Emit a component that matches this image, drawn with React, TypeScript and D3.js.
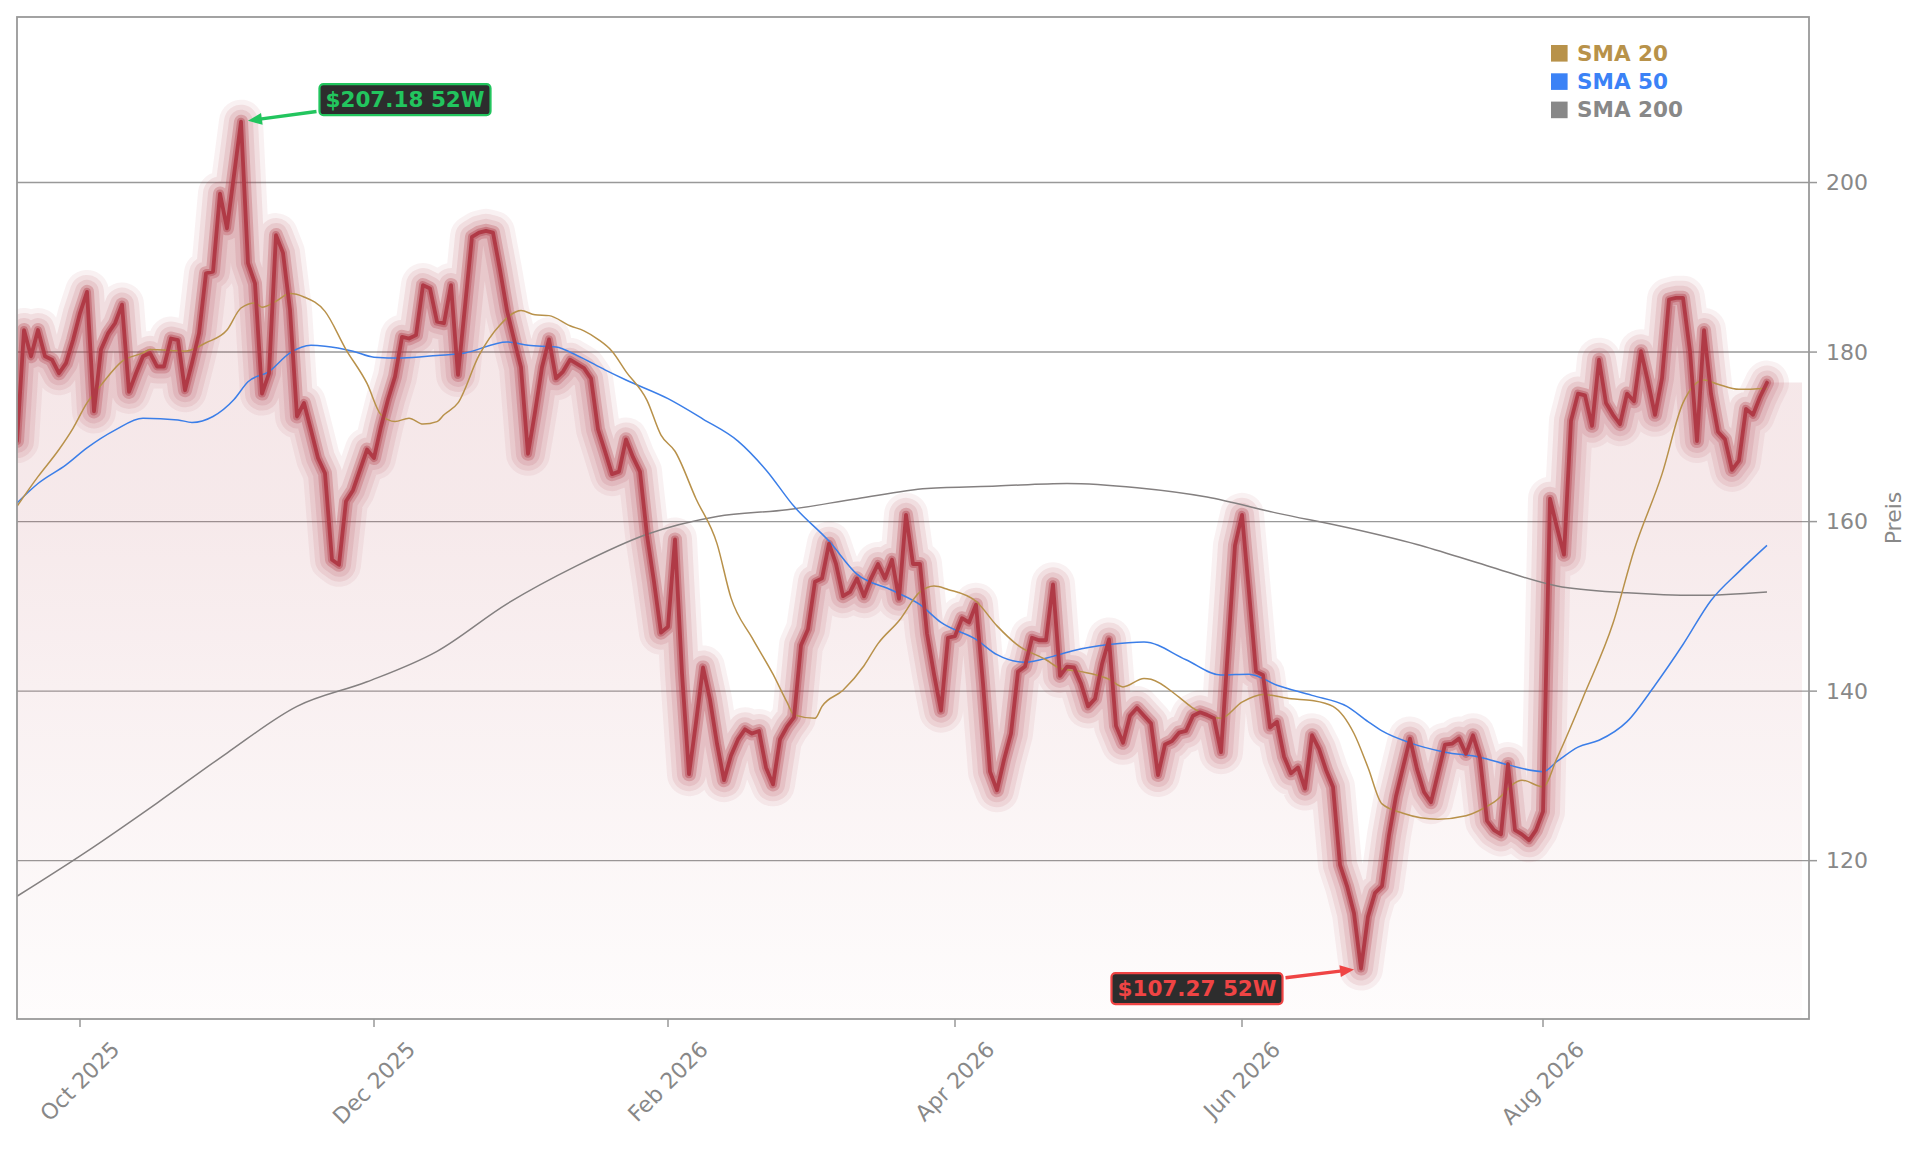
import React, { useRef, useEffect } from "react";
import * as d3 from "d3";

// first session and exchange holidays, the axis runs on trading-day index
const firstSession = new Date(2025, 8, 18);
const holidays = [
  "2025-11-27", "2025-12-25", "2026-01-01", "2026-01-19", "2026-02-16",
  "2026-04-03", "2026-05-25", "2026-06-19", "2026-07-03", "2026-09-07",
];

const prices = [
  169.5, 182.6, 179.5, 182.6, 179.5, 179.1, 177.5, 178.7, 181.4, 184.6,
  187.1, 173.0, 180.3, 182.2, 183.4, 185.6, 175.3, 177.5, 179.5, 179.9,
  178.3, 178.3, 181.6, 181.4, 175.5, 178.7, 182.2, 189.3, 189.5, 198.7,
  194.6, 200.9, 207.18, 190.5, 188.1, 175.1, 177.5, 193.8, 191.7, 185.0,
  172.4, 174.0, 170.8, 167.5, 165.7, 155.5, 154.9, 162.4, 163.7, 166.1,
  168.5, 167.5, 171.2, 174.4, 177.1, 181.8, 181.6, 182.0, 187.9, 187.5,
  183.6, 183.4, 187.9, 177.3, 185.4, 193.6,
  194.1, 194.3, 194.1, 189.7, 184.9, 181.5, 178.2, 168.0, 172.9, 178.2, 181.5,
  176.9, 177.7, 179.1, 178.6, 178.1, 176.9, 170.9, 168.3, 165.6, 165.9,
  169.7, 167.6, 165.9, 158.4, 152.9, 146.9, 147.6, 157.9, 142.1, 130.2,
  136.3, 142.8, 139.0, 133.8, 129.5, 132.4, 134.3, 135.5, 135.0, 135.3,
  131.0, 129.0, 134.3, 135.8, 136.9, 145.4, 147.3, 152.9, 153.3, 157.4,
  155.0, 151.2, 151.7, 153.3, 151.2, 153.3, 155.0, 153.3, 155.5, 150.9,
  160.8, 155.0, 155.0,
  146.8, 142.0, 137.7, 146.3, 146.5, 148.6, 148.1, 150.2, 140.9, 130.5, 128.3,
  131.9, 135.0, 142.3, 142.9, 146.3, 146.0, 146.0, 152.6, 141.8, 142.9,
  142.8, 140.9, 138.2, 139.1, 143.2, 146.1, 135.9, 133.9, 137.1, 138.0,
  137.1, 136.2, 130.1, 133.7, 134.1, 135.1, 135.3, 137.1, 137.5, 137.2,
  136.8, 132.8, 145.0, 157.2, 160.8, 151.7, 142.3, 141.9, 135.7, 136.4,
  132.3, 130.3, 131.0, 128.5, 134.8, 133.2, 130.7, 128.7, 119.5, 117.0,
  113.8, 107.27,
  113.4, 116.2, 117.0, 123.0, 127.6, 131.0, 134.4, 130.8, 128.1, 126.9,
  130.3, 133.7, 133.8, 134.4, 132.6, 134.8, 132.1, 124.7, 123.6, 123.1,
  131.4, 123.6, 123.1, 122.4, 123.6, 125.8, 162.7, 159.3, 156.1, 171.9,
  175.1, 174.9, 171.3, 179.1, 174.0, 172.6, 171.5, 175.1, 174.2, 180.1,
  176.5, 172.6, 176.9, 186.2, 186.4, 186.4, 180.1, 169.5, 182.6, 175.1,
  170.6, 169.7, 166.1, 167.2, 173.3, 172.6, 174.7, 176.4,
];

// [trading day index, value]
const sma20: [number, number][] = [
  [0, 161.8], [3, 165.3], [6, 168.5], [8, 171.0], [10, 174.0], [12, 176.1], [15, 178.9],
  [18, 179.9], [19, 180.3], [22, 180.2], [24, 180.1], [27, 181.1], [30, 182.6], [32, 185.2],
  [34, 185.8], [35, 185.3], [37, 186.0], [39, 186.9], [41, 186.5], [44, 184.8], [47, 180.3],
  [50, 176.3], [52, 172.6], [54, 171.8], [56, 172.2], [58, 171.5], [60, 171.8], [61, 172.6],
  [63, 174.0], [66, 179.6], [69, 183.2], [72, 184.9], [74, 184.4], [76, 184.3], [79, 183.1],
  [81, 182.5], [83, 181.5], [85, 180.1], [87, 177.7], [90, 174.3], [92, 170.2], [94, 168.3],
  [97, 162.7], [100, 157.4], [102, 151.0], [105, 146.3], [108, 142.0], [110, 138.7],
  [111, 137.2], [114, 136.8], [115, 138.2], [118, 140.1], [121, 143.0], [123, 145.6],
  [126, 148.3], [129, 151.7], [131, 152.4], [133, 152.0], [137, 150.6], [140, 147.7],
  [143, 145.4], [147, 143.7], [149, 142.7], [152, 142.3], [156, 141.4], [158, 140.5],
  [161, 141.5], [162, 141.4], [166, 139.3], [168, 138.0], [172, 136.8], [175, 138.7],
  [178, 139.6], [182, 139.1], [185, 138.9], [188, 138.2], [191, 135.0], [193, 131.0],
  [195, 126.7], [198, 125.6], [203, 124.9], [207, 125.3], [211, 126.9], [215, 129.5],
  [218, 128.7], [220, 132.1], [224, 139.8], [228, 148.0], [231, 156.6], [235, 165.6],
  [238, 174.0], [241, 176.7], [243, 176.2], [246, 175.6], [250, 175.7],
];

const sma50: [number, number][] = [
  [0, 162.2], [3, 164.5], [7, 166.7], [10, 168.7], [14, 170.8], [18, 172.2], [23, 172.0],
  [25, 171.7], [28, 172.4], [31, 174.4], [33, 176.5], [36, 177.7], [39, 179.9], [42, 180.8],
  [44, 180.7], [48, 180.1], [51, 179.4], [55, 179.3], [60, 179.6], [64, 179.9], [70, 181.2],
  [73, 180.8], [77, 180.6], [80, 179.6], [84, 177.9], [87, 176.7], [93, 174.5], [98, 172.1],
  [103, 169.5], [107, 166.1], [111, 161.8], [116, 157.7], [120, 153.8], [125, 151.9],
  [129, 150.2], [132, 148.1], [137, 146.1], [140, 144.3], [144, 143.4], [148, 144.1],
  [151, 144.8], [156, 145.5], [161, 145.8], [167, 143.7], [172, 141.9], [176, 142.0],
  [180, 140.7], [185, 139.5], [190, 138.2], [193, 136.4], [195, 135.3], [199, 133.9],
  [204, 132.8], [209, 132.2], [213, 131.3], [218, 130.5], [220, 131.7], [223, 133.4],
  [226, 134.2], [230, 136.4], [234, 140.7], [238, 145.5], [242, 150.7], [246, 154.1],
  [250, 157.2],
];

const sma200: [number, number][] = [
  [0, 115.8], [10, 121.1], [20, 126.8], [30, 132.7], [40, 138.2], [50, 141.1], [60, 144.7],
  [70, 150.3], [80, 154.8], [90, 158.5], [100, 160.6], [110, 161.4], [120, 162.7],
  [130, 163.9], [140, 164.2], [150, 164.5], [160, 164.0], [170, 162.9], [180, 161.0],
  [190, 159.3], [200, 157.3], [210, 154.8], [220, 152.4], [230, 151.6], [240, 151.3],
  [250, 151.7],
];

const yTicks = [120, 140, 160, 180, 200];
const xTickMonths = [
  new Date(2025, 9, 1),
  new Date(2025, 11, 1),
  new Date(2026, 1, 1),
  new Date(2026, 3, 1),
  new Date(2026, 5, 1),
  new Date(2026, 7, 1),
];

const legendItems = [
  { label: "SMA 20", color: "#b8924a" },
  { label: "SMA 50", color: "#3b82f6" },
  { label: "SMA 200", color: "#888888" },
];

const W = 1921;
const H = 1151;
const frame = { left: 17, right: 1809, top: 17, bottom: 1019 };
const FONT = "DejaVu Sans";
const PRICE_COLOR = "#b03a46";

const isoDay = d3.timeFormat("%Y-%m-%d");

// trading sessions, one per price
const sessions: Date[] = [];
for (let d = new Date(firstSession); sessions.length < prices.length; d = d3.timeDay.offset(d, 1)) {
  const wd = d.getDay();
  if (wd !== 0 && wd !== 6 && !holidays.includes(isoDay(d))) sessions.push(d);
}

const App: React.FC = () => {
  const ref = useRef<SVGSVGElement>(null);

  useEffect(() => {
    if (!ref.current) return;
    const svg = d3.select(ref.current);
    svg.selectAll("*").remove();

    // index axis: price i sits at session i, the frame runs a few sessions past the end
    const x = d3.scaleLinear().domain([0, 256]).range([frame.left, frame.right]);
    const y = d3
      .scaleLinear()
      .domain([101.32, 219.53])
      .range([frame.bottom, frame.top]);

    const defs = svg.append("defs");
    defs
      .append("clipPath")
      .attr("id", "plot-clip")
      .append("rect")
      .attr("x", frame.left)
      .attr("y", frame.top)
      .attr("width", frame.right - frame.left)
      .attr("height", frame.bottom - frame.top);

    const grad = defs
      .append("linearGradient")
      .attr("id", "fill-grad")
      .attr("gradientUnits", "userSpaceOnUse")
      .attr("x1", 0)
      .attr("x2", 0)
      .attr("y1", frame.top)
      .attr("y2", frame.bottom);
    [
      [0, 0.15],
      [0.5, 0.11],
      [0.8, 0.05],
      [1, 0.015],
    ].forEach(([o, a]) =>
      grad
        .append("stop")
        .attr("offset", o)
        .attr("stop-color", PRICE_COLOR)
        .attr("stop-opacity", a)
    );

    svg
      .append("rect")
      .attr("width", W)
      .attr("height", H)
      .attr("fill", "#ffffff");

    // horizontal grid
    svg
      .append("g")
      .selectAll("line")
      .data(yTicks)
      .enter()
      .append("line")
      .attr("x1", frame.left)
      .attr("x2", frame.right)
      .attr("y1", (d) => y(d))
      .attr("y2", (d) => y(d))
      .attr("stroke", "#999999")
      .attr("stroke-width", 1.4);

    const plot = svg.append("g").attr("clip-path", "url(#plot-clip)");

    const pts = prices.map((v, i) => ({ i, v }));

    // area under price, carried a few sessions past the last close
    const areaPts = [...pts, { i: prices.length - 1 + 5, v: prices[prices.length - 1] }];
    plot
      .append("path")
      .datum(areaPts)
      .attr(
        "d",
        d3
          .area<{ i: number; v: number }>()
          .x((d) => x(d.i))
          .y0(frame.bottom)
          .y1((d) => y(d.v))
      )
      .attr("fill", "url(#fill-grad)");

    const priceLine = d3
      .line<{ i: number; v: number }>()
      .x((d) => x(d.i))
      .y((d) => y(d.v));

    // glow, wide and faint outside, denser near the line
    const glow = [
      [44, 0.07],
      [34, 0.1],
      [24, 0.12],
      [14, 0.27],
      [8, 0.4],
    ];
    glow.forEach(([w, a]) => {
      plot
        .append("path")
        .datum(pts)
        .attr("d", priceLine)
        .attr("fill", "none")
        .attr("stroke", PRICE_COLOR)
        .attr("stroke-opacity", a)
        .attr("stroke-width", w)
        .attr("stroke-linejoin", "round")
        .attr("stroke-linecap", "round");
    });

    // moving averages
    const smaLine = d3
      .line<[number, number]>()
      .x((d) => x(d[0]))
      .y((d) => y(d[1]))
      .curve(d3.curveMonotoneX);
    [
      { data: sma200, color: "#848080" },
      { data: sma50, color: "#3b7ee8" },
      { data: sma20, color: "#b8914a" },
    ].forEach((s) => {
      plot
        .append("path")
        .datum(s.data)
        .attr("d", smaLine)
        .attr("fill", "none")
        .attr("stroke", s.color)
        .attr("stroke-width", 1.5);
    });

    plot
      .append("path")
      .datum(pts)
      .attr("d", priceLine)
      .attr("fill", "none")
      .attr("stroke", PRICE_COLOR)
      .attr("stroke-width", 3.8)
      .attr("stroke-linejoin", "round")
      .attr("stroke-linecap", "round");

    // frame
    svg
      .append("rect")
      .attr("x", frame.left)
      .attr("y", frame.top)
      .attr("width", frame.right - frame.left)
      .attr("height", frame.bottom - frame.top)
      .attr("fill", "none")
      .attr("stroke", "#999999")
      .attr("stroke-width", 1.8);

    // right axis
    const yAxis = svg.append("g");
    yTicks.forEach((t) => {
      yAxis
        .append("line")
        .attr("x1", frame.right)
        .attr("x2", frame.right + 8)
        .attr("y1", y(t))
        .attr("y2", y(t))
        .attr("stroke", "#999999")
        .attr("stroke-width", 1.5);
      yAxis
        .append("text")
        .attr("x", frame.right + 17)
        .attr("y", y(t))
        .attr("dominant-baseline", "central")
        .attr("font-family", FONT)
        .attr("font-size", 22)
        .attr("fill", "#888888")
        .text(String(t));
    });
    svg
      .append("text")
      .attr("transform", `translate(1893, ${(frame.top + frame.bottom) / 2}) rotate(-90)`)
      .attr("text-anchor", "middle")
      .attr("dominant-baseline", "central")
      .attr("font-family", FONT)
      .attr("font-size", 22)
      .attr("fill", "#888888")
      .text("Preis");

    // bottom axis: tick at the first session of every other month
    const fmt = d3.timeFormat("%b %Y");
    const xAxis = svg.append("g");
    xTickMonths.forEach((m) => {
      const idx = sessions.findIndex((s) => s >= m);
      const tx = x(idx);
      xAxis
        .append("line")
        .attr("x1", tx)
        .attr("x2", tx)
        .attr("y1", frame.bottom)
        .attr("y2", frame.bottom + 8)
        .attr("stroke", "#999999")
        .attr("stroke-width", 1.5);
      const label = xAxis
        .append("text")
        .attr("text-anchor", "middle")
        .attr("dominant-baseline", "central")
        .attr("font-family", FONT)
        .attr("font-size", 22)
        .attr("fill", "#888888")
        .text(fmt(m));
      const w = (label.node() as SVGTextElement).getComputedTextLength();
      const cy = 1040 + ((w + 16) * Math.SQRT1_2) / 2;
      label
        .attr("x", tx)
        .attr("y", cy)
        .attr("transform", `rotate(-45, ${tx}, ${cy})`);
    });

    // legend
    const legend = svg.append("g");
    legendItems.forEach((item, i) => {
      const cy = 53.3 + i * 28.3;
      legend
        .append("rect")
        .attr("x", 1551)
        .attr("y", cy - 8.3)
        .attr("width", 16.6)
        .attr("height", 16.6)
        .attr("fill", item.color);
      legend
        .append("text")
        .attr("x", 1577)
        .attr("y", cy)
        .attr("dominant-baseline", "central")
        .attr("font-family", FONT)
        .attr("font-weight", "bold")
        .attr("font-size", 21.5)
        .attr("fill", item.color)
        .text(item.label);
    });

    // 52 week high / low markers
    const hiIdx = d3.maxIndex(prices);
    const loIdx = d3.minIndex(prices);
    const notes = [
      { idx: hiIdx, color: "#22c55e", dx: 164, dy: -22 },
      { idx: loIdx, color: "#ef4444", dx: -164, dy: 20 },
    ];
    notes.forEach((n) => {
      const px = x(n.idx);
      const py = y(prices[n.idx]);
      const cx = px + n.dx;
      const cy = py + n.dy;
      const g = svg.append("g");
      const box = g.append("rect");
      const label = g
        .append("text")
        .attr("x", cx)
        .attr("y", cy)
        .attr("text-anchor", "middle")
        .attr("dominant-baseline", "central")
        .attr("font-family", FONT)
        .attr("font-weight", "bold")
        .attr("font-size", 21.5)
        .attr("fill", n.color)
        .text(`$${prices[n.idx].toFixed(2)} 52W`);
      const tw = (label.node() as SVGTextElement).getComputedTextLength();
      const hw = tw / 2 + 6;
      const hh = 15.5;
      box
        .attr("x", cx - hw)
        .attr("y", cy - hh)
        .attr("width", hw * 2)
        .attr("height", hh * 2)
        .attr("rx", 4)
        .attr("fill", "#2d2d2d")
        .attr("stroke", n.color)
        .attr("stroke-width", 2.2);

      // arrow from just outside the box edge to near the point
      const vx = px - cx;
      const vy = py - cy;
      const len = Math.hypot(vx, vy);
      const ux = vx / len;
      const uy = vy / len;
      const t0 = Math.min(hw / Math.abs(vx), hh / Math.abs(vy));
      const sx = cx + vx * t0 + ux * 3;
      const sy = cy + vy * t0 + uy * 3;
      const ex = px - ux * 7;
      const ey = py - uy * 7;
      const headLen = 14;
      const bx = ex - ux * headLen;
      const by = ey - uy * headLen;
      g.append("line")
        .attr("x1", sx)
        .attr("y1", sy)
        .attr("x2", bx + ux * 2)
        .attr("y2", by + uy * 2)
        .attr("stroke", n.color)
        .attr("stroke-width", 3.4);
      g.append("polygon")
        .attr(
          "points",
          [
            [ex, ey],
            [bx - uy * 6, by + ux * 6],
            [bx + uy * 6, by - ux * 6],
          ]
            .map((p) => p.join(","))
            .join(" ")
        )
        .attr("fill", n.color);
    });
  }, []);

  return (
    <div style={{ position: "absolute", left: 0, top: 0, width: W, height: H }}>
      <svg ref={ref} width={W} height={H} style={{ display: "block" }}></svg>
    </div>
  );
};

export default App;
